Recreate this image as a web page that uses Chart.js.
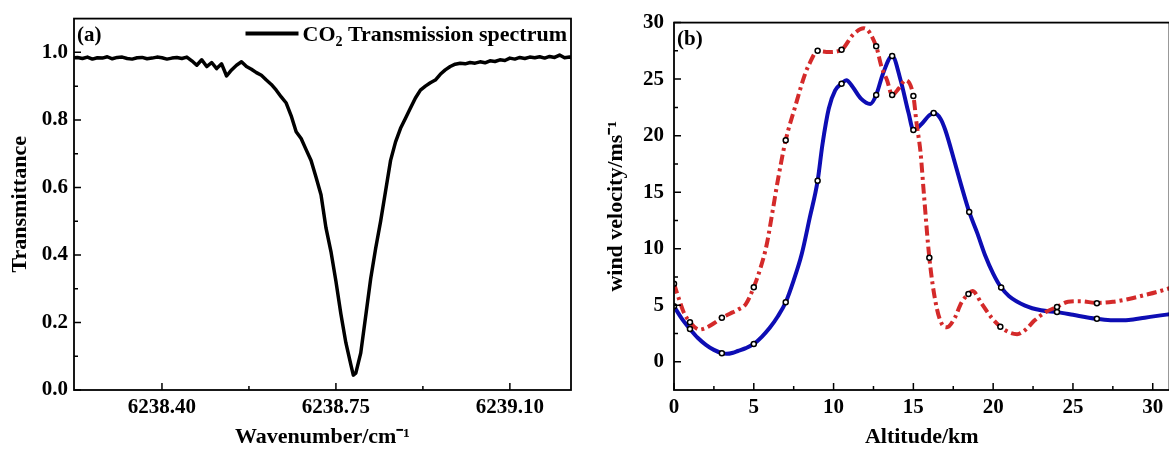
<!DOCTYPE html>
<html>
<head>
<meta charset="utf-8">
<script src="https://cdn.jsdelivr.net/npm/chart.js@4.4.0/dist/chart.umd.min.js"></script>
<style>
  html, body { margin: 0; padding: 0; background: #fff; overflow: hidden; width: 1169px; height: 451px; }
  #chartA { position: absolute; left: 0; top: 0; }
  #chartB { position: absolute; left: 600px; top: 0; }
</style>
</head>
<body>
<canvas id="chartA" width="590" height="451"></canvas>
<canvas id="chartB" width="575" height="451"></canvas>
<script>
// ---- panel (a): CO2 transmission spectrum ----
const wavenumber = [
  6238.22, 6238.23, 6238.24, 6238.25, 6238.26, 6238.27, 6238.28, 6238.29,
  6238.30, 6238.31, 6238.32, 6238.33, 6238.34, 6238.35, 6238.36, 6238.37, 6238.38, 6238.39,
  6238.40, 6238.41, 6238.42, 6238.43, 6238.44, 6238.45, 6238.46, 6238.47, 6238.48, 6238.49,
  6238.50, 6238.51, 6238.52, 6238.53, 6238.54, 6238.55, 6238.56, 6238.57, 6238.58, 6238.59,
  6238.60, 6238.61, 6238.62, 6238.63, 6238.64, 6238.65, 6238.66, 6238.67, 6238.68, 6238.69,
  6238.70, 6238.71, 6238.72, 6238.73, 6238.74, 6238.75, 6238.76, 6238.77, 6238.78, 6238.785, 6238.79,
  6238.80, 6238.81, 6238.82, 6238.83, 6238.84, 6238.85, 6238.86, 6238.87, 6238.88, 6238.89,
  6238.90, 6238.91, 6238.92, 6238.93, 6238.94, 6238.95, 6238.96, 6238.97, 6238.98, 6238.99,
  6239.00, 6239.01, 6239.02, 6239.03, 6239.04, 6239.05, 6239.06, 6239.07, 6239.08, 6239.09,
  6239.10, 6239.11, 6239.12, 6239.13, 6239.14, 6239.15, 6239.16, 6239.17, 6239.18, 6239.19,
  6239.20, 6239.21, 6239.22, 6239.23
];
const transmittance = [
  0.984, 0.985, 0.982, 0.986, 0.980, 0.984, 0.983, 0.987,
  0.981, 0.985, 0.986, 0.982, 0.980, 0.984, 0.985, 0.981, 0.983, 0.986,
  0.984, 0.980, 0.983, 0.985, 0.982, 0.986, 0.975, 0.962, 0.978, 0.958,
  0.970, 0.952, 0.966, 0.930, 0.948, 0.962, 0.972, 0.958, 0.950, 0.940,
  0.932, 0.918, 0.905, 0.888, 0.868, 0.850, 0.812, 0.765, 0.745, 0.712,
  0.680, 0.630, 0.578, 0.480, 0.410, 0.322, 0.225, 0.140, 0.075, 0.044, 0.050,
  0.110, 0.220, 0.330, 0.420, 0.500, 0.590, 0.680, 0.735, 0.775, 0.805,
  0.835, 0.865, 0.888, 0.900, 0.910, 0.918, 0.935, 0.948, 0.958, 0.965,
  0.968, 0.966, 0.970, 0.968, 0.972, 0.969, 0.975, 0.973, 0.978, 0.976,
  0.983, 0.980, 0.985, 0.982, 0.986, 0.984, 0.987, 0.983, 0.988, 0.985,
  0.992, 0.984, 0.986, 0.985
];
const wavenumberTicks = [6238.40, 6238.75, 6239.10];
const wavenumberMinor = [6238.575, 6238.925];
const transmittanceTicks = [0, 0.2, 0.4, 0.6, 0.8, 1.0];
const transmittanceMinor = [0.1, 0.3, 0.5, 0.7, 0.9];

// ---- panel (b): wind velocity profiles ----
const altitudeBlue = [0, 0.5, 1, 1.5, 2, 2.5, 3, 3.3, 3.7, 4, 4.5, 5, 5.5, 6, 6.5, 7, 7.5, 8, 8.5, 9,
  9.3, 9.7, 10.1, 10.5, 10.8, 11.2, 11.7, 12.3, 12.67, 13.1, 13.67, 14.2, 14.7, 15.0, 15.5, 16.0, 16.3, 16.7, 17.0, 17.6,
  18.0, 18.5, 19.0, 19.5, 20.0, 20.5, 21.0, 22.0, 23.0, 24.0, 25.0, 26.0, 26.5, 27.5, 28.5, 29.5, 30.5, 31.05];
const velocityBlue = [4.9, 3.8, 2.9, 2.1, 1.5, 1.05, 0.76, 0.7, 0.8, 0.95, 1.2, 1.57, 2.2, 3.0, 4.0, 5.26, 7.2, 9.5, 12.7, 16.0,
  19.2, 22.4, 24.0, 24.6, 24.9, 24.3, 23.3, 22.8, 23.6, 25.5, 27.05, 24.9, 22.0, 20.5, 21.0, 21.8, 22.0, 21.5, 20.5, 17.6,
  15.6, 13.25, 11.4, 9.4, 7.8, 6.57, 5.8, 4.97, 4.55, 4.39, 4.15, 3.9, 3.8, 3.66, 3.7, 3.9, 4.1, 4.2];
const altitudeRed = [0, 0.3, 0.6, 1.0, 1.6, 2.0, 2.5, 3.0, 3.5, 4.0, 4.5, 5.0, 5.4, 5.8, 6.2, 6.5, 7.0, 7.6, 8.2, 8.5,
  9.0, 9.7, 10.5, 11.2, 11.9, 12.67, 13.0, 13.35, 13.67, 14.1, 14.5, 15.0, 15.2, 15.45, 15.65, 16.0, 16.4, 16.8, 17.1, 17.6,
  18.0, 18.45, 18.7, 19.3, 19.9, 20.45, 21.0, 21.5, 22.0, 22.6, 23.3, 24.0, 24.7, 25.5, 26.5, 27.5, 28.5, 29.5, 30.2, 31.05];
const velocityRed = [6.9, 5.6, 4.4, 3.5, 2.85, 3.0, 3.4, 3.9, 4.25, 4.6, 5.1, 6.6, 8.2, 10.3, 13.5, 16.0, 19.6, 22.6, 25.4, 26.4,
  27.5, 27.4, 27.6, 28.9, 29.5, 27.9, 26.1, 24.9, 23.6, 24.2, 24.9, 23.5, 21.1, 18.5, 15.0, 9.2, 5.2, 3.3, 3.05, 3.9,
  5.2, 6.0, 6.25, 5.1, 3.9, 3.1, 2.6, 2.44, 2.8, 3.66, 4.4, 4.85, 5.3, 5.35, 5.2, 5.3, 5.55, 5.9, 6.15, 6.5];
// sampled points (black circles)
const markerAltBlue = [0, 1, 3, 5, 7, 9, 10.5, 12.67, 13.67, 15.0, 16.27, 18.5, 20.5, 24.0, 26.5];
const markerVelBlue = [4.9, 2.9, 0.76, 1.57, 5.26, 16.0, 24.6, 23.6, 27.05, 20.5, 22.0, 13.25, 6.57, 4.39, 3.8];
const markerAltRed = [0, 1, 3, 5, 7, 9, 10.5, 12.67, 13.67, 15.0, 16.0, 18.45, 20.45, 24.0, 26.5];
const markerVelRed = [6.9, 3.5, 3.9, 6.6, 19.6, 27.5, 27.6, 27.9, 23.6, 23.5, 9.2, 6.0, 3.1, 4.85, 5.17];
const altitudeTicks = [0, 5, 10, 15, 20, 25, 30];
const altitudeMinor = [2.5, 7.5, 12.5, 17.5, 22.5, 27.5];
const velocityTicks = [0, 5, 10, 15, 20, 25, 30];
const velocityMinor = [2.5, 7.5, 12.5, 17.5, 22.5, 27.5];

const serif = '"Liberation Serif", "Times New Roman", serif';
const tickFont = { family: serif, size: 21, weight: 'bold' };
const titleFont = { family: serif, size: 22, weight: 'bold', lineHeight: 1.2 };

const toPoints = (xs, ys) => xs.map((x, i) => ({ x: x, y: ys[i] }));

// box around the plot area plus inward major/minor ticks
const frameTicks = {
  id: 'frameTicks',
  afterDatasetsDraw(chart, args, opts) {
    const { ctx, chartArea: { left, top, right, bottom }, scales: { x, y } } = chart;
    ctx.save();
    ctx.strokeStyle = '#000';
    ctx.lineWidth = 1.8;
    ctx.strokeRect(left, top, right - left, bottom - top);
    ctx.lineWidth = 1.5;
    ctx.beginPath();
    x.ticks.forEach(t => { const p = x.getPixelForValue(t.value); ctx.moveTo(p, bottom); ctx.lineTo(p, bottom - 7); });
    opts.xMinor.forEach(v => { const p = x.getPixelForValue(v); ctx.moveTo(p, bottom); ctx.lineTo(p, bottom - 4); });
    y.ticks.forEach(t => { const p = y.getPixelForValue(t.value); ctx.moveTo(left, p); ctx.lineTo(left + 7, p); });
    opts.yMinor.forEach(v => { const p = y.getPixelForValue(v); ctx.moveTo(left, p); ctx.lineTo(left + 4, p); });
    ctx.stroke();
    ctx.restore();
  }
};

// "(a)" / "(b)" tag in the top left corner
const panelTag = {
  id: 'panelTag',
  afterDraw(chart, args, opts) {
    const { ctx, chartArea } = chart;
    ctx.save();
    ctx.font = 'bold 21px ' + serif;
    ctx.fillStyle = '#000';
    ctx.fillText(opts.text, chartArea.left + 3, chartArea.top + 22);
    ctx.restore();
  }
};

// legend inside the plot, top right, with the subscript in CO2
const lineLegend = {
  id: 'lineLegend',
  afterDraw(chart, args, opts) {
    if (!opts.parts) return;
    const { ctx, chartArea } = chart;
    const ds = chart.data.datasets[0];
    const big = 'bold 22px ' + serif;
    const small = 'bold 14px ' + serif;
    ctx.save();
    let width = 0;
    opts.parts.forEach(([t, sub]) => { ctx.font = sub ? small : big; width += ctx.measureText(t).width; });
    let x = chartArea.right - 4 - width;
    const base = chartArea.top + 22;
    ctx.strokeStyle = ds.borderColor;
    ctx.lineWidth = 4;
    ctx.beginPath();
    ctx.moveTo(x - 57, base - 7);
    ctx.lineTo(x - 4, base - 7);
    ctx.stroke();
    ctx.fillStyle = '#000';
    opts.parts.forEach(([t, sub]) => {
      ctx.font = sub ? small : big;
      ctx.fillText(t, x, sub ? base + 5 : base);
      x += ctx.measureText(t).width;
    });
    ctx.restore();
  }
};

function axis(min, max, ticks, fmt, height, width, title, titlePad) {
  const o = {
    type: 'linear', min: min, max: max,
    afterBuildTicks: s => { s.ticks = ticks.map(v => ({ value: v })); },
    grid: { display: false, drawTicks: false },
    border: { display: false },
    ticks: { color: '#000', font: tickFont, autoSkip: false, maxRotation: 0, minRotation: 0, callback: fmt },
    title: { display: true, text: title, color: '#000', font: titleFont, padding: titlePad }
  };
  if (height) { o.afterFit = s => { s.height = height; }; o.ticks.padding = 5; }
  if (width) { o.afterFit = s => { s.width = width; }; }
  return o;
}

new Chart(document.getElementById('chartA'), {
  type: 'line',
  data: {
    datasets: [{
      label: 'CO₂ Transmission spectrum',
      data: toPoints(wavenumber, transmittance),
      borderColor: '#000',
      borderWidth: 3.5,
      pointRadius: 0,
      tension: 0,
      borderJoinStyle: 'round'
    }]
  },
  options: {
    responsive: false,
    animation: false,
    devicePixelRatio: 1,
    layout: { padding: { left: 0, top: 18, right: 19, bottom: 0 } },
    scales: {
      x: axis(6238.223, 6239.223, wavenumberTicks, v => v.toFixed(2), 61, 0, 'Wavenumber/cm⁻¹', { top: 0, bottom: 0 }),
      y: Object.assign(axis(0, 1.1, transmittanceTicks, v => v.toFixed(1), 0, 74, 'Transmittance', { top: 7, bottom: 0 }), {})
    },
    plugins: {
      legend: { display: false },
      tooltip: { enabled: false },
      frameTicks: { xMinor: wavenumberMinor, yMinor: transmittanceMinor },
      panelTag: { text: '(a)' },
      lineLegend: { parts: [['CO', false], ['2', true], [' Transmission spectrum', false]] }
    }
  },
  plugins: [frameTicks, panelTag, lineLegend]
});
// y tick label spacing for panel (a)
Chart.getChart('chartA').options.scales.y.ticks.padding = 6;
Chart.getChart('chartA').update();

const markerStyle = {
  showLine: false,
  pointRadius: 2.5,
  pointBorderWidth: 1.5,
  pointBackgroundColor: '#fff',
  pointBorderColor: '#000',
  order: 0
};

new Chart(document.getElementById('chartB'), {
  type: 'line',
  data: {
    datasets: [
      Object.assign({ label: 'red samples', data: toPoints(markerAltRed, markerVelRed) }, markerStyle),
      Object.assign({ label: 'blue samples', data: toPoints(markerAltBlue, markerVelBlue) }, markerStyle),
      {
        label: 'red',
        data: toPoints(altitudeRed, velocityRed),
        borderColor: '#d42a2a',
        borderWidth: 4,
        borderDash: [10, 4, 3, 4],
        pointRadius: 0,
        cubicInterpolationMode: 'monotone',
        order: 1
      },
      {
        label: 'blue',
        data: toPoints(altitudeBlue, velocityBlue),
        borderColor: '#0d0db4',
        borderWidth: 4,
        pointRadius: 0,
        cubicInterpolationMode: 'monotone',
        order: 2
      }
    ]
  },
  options: {
    responsive: false,
    animation: false,
    devicePixelRatio: 1,
    layout: { padding: { left: 0, top: 18, right: 3, bottom: 0 } },
    scales: {
      x: axis(0, 31.05, altitudeTicks, v => String(v), 61, 0, 'Altitude/km', { top: 0, bottom: 0 }),
      y: axis(-2.5, 30, velocityTicks, v => String(v), 0, 74, 'wind velocity/ms⁻¹', { top: 3, bottom: 0 })
    },
    plugins: {
      legend: { display: false },
      tooltip: { enabled: false },
      frameTicks: { xMinor: altitudeMinor, yMinor: velocityMinor },
      panelTag: { text: '(b)' }
    }
  },
  plugins: [frameTicks, panelTag]
});
Chart.getChart('chartB').options.scales.y.ticks.padding = 10;
Chart.getChart('chartB').update();
</script>
</body>
</html>
